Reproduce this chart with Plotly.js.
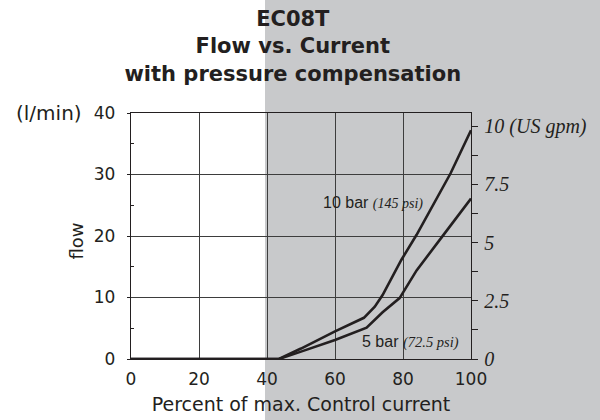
<!DOCTYPE html>
<html>
<head>
<meta charset="utf-8">
<script src="https://cdn.plot.ly/plotly-3.0.1.min.js"></script>
<style>html,body{margin:0;padding:0;background:#fff;}#chart{width:600px;height:420px;}</style>
</head>
<body>
<div id="chart"></div>
<script>
// Data
const current10 = [0, 43.5, 50, 60, 68.5, 71.7, 74, 79.5, 84, 90, 94, 100];
const flow10    = [0, 0, 1.7, 4.5, 6.7, 8.5, 10.4, 16.1, 20.2, 26.1, 30.2, 37.2];
const current5  = [0, 43.5, 50, 60, 69.3, 74, 79, 84, 91.8, 96, 100];
const flow5     = [0, 0, 1.2, 3.1, 5.1, 7.6, 9.9, 14.4, 20.1, 23.2, 26.1];
const xTicks = [0, 20, 40, 60, 80, 100];
const yTicks = [0, 10, 20, 30, 40];
const yMinorTicks = [5, 15, 25, 35];
const gpmTickVals = [0, 1.25, 2.5, 3.75, 5, 6.25, 7.5, 8.75, 10];
const gpmTickText = ['0', '', '2.5', '', '5', '', '7.5', '', '10 (US gpm)'];
const lpmPerGpm = 3.785;

const ink = '#231f20';
const traces = [
  {x: current10, y: flow10, type: 'scatter', mode: 'lines', line: {color: ink, width: 2.6}, hoverinfo: 'skip', showlegend: false},
  {x: current5, y: flow5, type: 'scatter', mode: 'lines', line: {color: ink, width: 2.6}, hoverinfo: 'skip', showlegend: false},
  {x: [0], y: [0], yaxis: 'y2', type: 'scatter', mode: 'markers', marker: {opacity: 0}, hoverinfo: 'skip', showlegend: false}
];

const serif = "'Liberation Serif', 'Times New Roman', serif";
const layout = {
  width: 600, height: 420,
  margin: {l: 131, r: 129, t: 113, b: 61},
  paper_bgcolor: '#ffffff',
  plot_bgcolor: 'rgba(0,0,0,0)',
  font: {family: "'DejaVu Sans', Verdana, sans-serif", color: ink, size: 17},
  title: {
    text: '<b>EC08T<br>Flow vs. Current<br>with pressure compensation</b>',
    font: {family: "'DejaVu Sans', Verdana, sans-serif", size: 21, color: ink},
    x: 0.488, xref: 'container', xanchor: 'center',
    y: 0.938, yref: 'container', yanchor: 'top'
  },
  xaxis: {
    range: [0, 100], tickmode: 'array', tickvals: xTicks,
    showgrid: true, gridcolor: '#3d3d3d', gridwidth: 1,
    showline: true, linecolor: ink, linewidth: 1.3, mirror: true,
    ticks: '', zeroline: false, ticklabelstandoff: 4,
    tickfont: {size: 17},
    title: {text: 'Percent of max. Control current', font: {size: 19}, standoff: 10}
  },
  yaxis: {
    range: [0, 40], tickmode: 'array', tickvals: yTicks,
    showgrid: true, gridcolor: '#3d3d3d', gridwidth: 1,
    showline: true, linecolor: ink, linewidth: 1.3, mirror: true,
    ticks: 'outside', ticklen: 3, tickcolor: ink, zeroline: false,
    minor: {tickvals: yMinorTicks, ticks: 'inside', ticklen: 3, tickcolor: ink, showgrid: false},
    tickfont: {size: 17}, ticklabelstandoff: 8
  },
  yaxis2: {
    overlaying: 'y', side: 'right', range: [0, 40 / lpmPerGpm],
    tickmode: 'array', tickvals: gpmTickVals, ticktext: gpmTickText,
    ticks: 'outside', ticklen: 6, tickcolor: ink,
    showgrid: false, zeroline: false, showline: true, linecolor: ink, linewidth: 1.3,
    tickfont: {family: serif, size: 20, color: ink, style: 'italic'},
    ticklabelstandoff: 2
  },
  shapes: [
    {type: 'rect', xref: 'paper', yref: 'paper', x0: (265 - 131) / 340, x1: 2, y0: -1, y1: 2,
     fillcolor: 'rgb(200,201,203)', line: {width: 0}, layer: 'below'}
  ],
  annotations: [
    {text: '(l/min)', xref: 'paper', yref: 'paper', x: (14 - 131) / 340, y: 1, xanchor: 'left', yanchor: 'middle',
     showarrow: false, font: {size: 20, color: ink}},
    {text: 'flow', xref: 'paper', yref: 'paper', x: (76 - 131) / 340, y: (359 - 241.5) / 246, xanchor: 'center', yanchor: 'middle',
     textangle: -90, showarrow: false, font: {size: 18, color: ink}},
    {text: "10 bar <span style=\"font-family:'Liberation Serif',serif;font-style:italic;font-size:14px\">(145 psi)</span>",
     x: 56.0, y: 25.35, xanchor: 'left', yanchor: 'middle', showarrow: false,
     font: {family: "'Liberation Sans', Arial, sans-serif", size: 16, color: ink}},
    {text: "5 bar <span style=\"font-family:'Liberation Serif',serif;font-style:italic;font-size:14.5px\">(72.5 psi)</span>",
     x: 67.3, y: 2.7, xanchor: 'left', yanchor: 'middle', showarrow: false,
     font: {family: "'Liberation Sans', Arial, sans-serif", size: 16, color: ink}}
  ]
};

Plotly.newPlot('chart', traces, layout, {staticPlot: true, displayModeBar: false});
</script>
</body>
</html>
